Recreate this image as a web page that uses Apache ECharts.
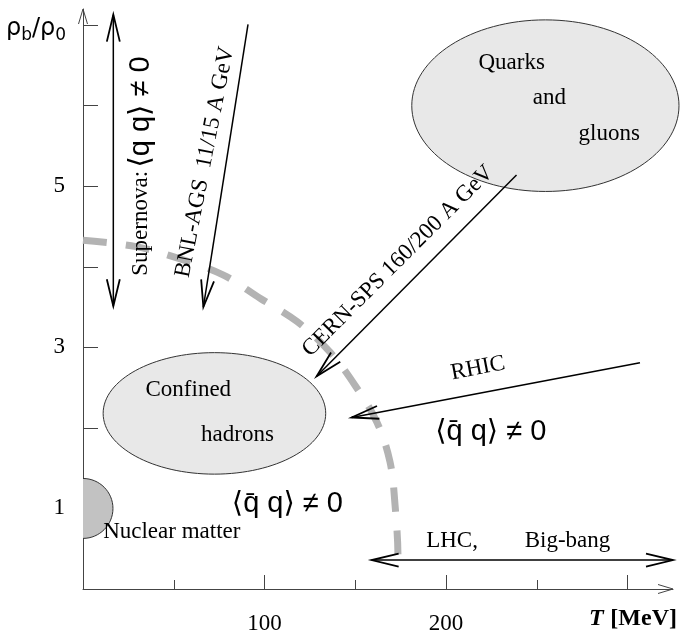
<!DOCTYPE html>
<html><head><meta charset="utf-8">
<script src="https://cdn.jsdelivr.net/npm/echarts@6/dist/echarts.min.js"></script>
<style>html,body{margin:0;padding:0;background:#fff}#c{width:680px;height:638px}</style>
</head><body><div id="c"></div>
<script>
// ---- axis ticks / labels ----
const xTickValues = [50, 100, 150, 200, 250, 300];
const xMajorTickValues = [100, 200, 300];
const xLabelValues = [100, 200];
const yTickValues = [1, 2, 3, 4, 5, 6, 7];
const yLabelValues = [1, 3, 5];

// ---- phase boundary (T in MeV, rho_b/rho_0) ----
const boundaryT   = [0, 29.2, 51.8, 77.1, 97.5, 117.9, 136.1, 149.8, 161.9, 169.1, 171.9, 173.5, 173.5];
const boundaryRho = [4.33, 4.25, 4.11, 3.90, 3.61, 3.32, 2.94, 2.53, 2.07, 1.58, 1.04, 0.38, 0.21];

// ---- phase regions (centre and half-extent in data units) ----
const regionNames     = ['Quarks and gluons', 'Confined hadrons'];
const regionT         = [254.7, 72.4];
const regionRho       = [6.0, 2.18];
const regionTRadius   = [73.6, 61.3];
const regionRhoRadius = [1.065, 0.754];
const nuclearT = [0], nuclearRho = [1.0], nuclearTRadius = [16.5], nuclearRhoRadius = [0.372];

// ---- experiment / trajectory arrows ----
const arrowNames = ['Supernova', 'BNL-AGS', 'CERN-SPS', 'RHIC', 'LHC / Big-bang'];
const arrowT0    = [16.7, 90.9, 238.8, 306.8, 159.0];
const arrowRho0  = [7.13, 7.01, 5.14, 2.81, 0.36];
const arrowT1    = [16.7, 66.3, 128.7, 148.0, 325.0];
const arrowRho1  = [3.51, 3.50, 2.64, 2.13, 0.36];
const arrowHeads = [2, 1, 1, 1, 2];

// ---- annotations (anchored in data coordinates) ----
const noteTexts = [
  '{s|Supernova:} {m|⟨q q⟩ ≠ 0}',
  '{s|BNL-AGS  11/15 A GeV}',
  '{s|CERN-SPS 160/200 A GeV}',
  '{s|RHIC}',
  '{s|Quarks}', '{s|and}', '{s|gluons}',
  '{s|Confined}', '{s|hadrons}',
  '{m|⟨q\u0304 q⟩ ≠ 0}', '{m|⟨q\u0304 q⟩ ≠ 0}',
  '{s|Nuclear matter}',
  '{s|LHC,}', '{s|Big-bang}'
];
const noteT     = [31.9, 67.2, 173.5, 217.6, 236.1, 256.9, 289.9, 58.0, 85.1, 112.6, 224.6, 48.9, 203.3, 266.9];
const noteRho   = [5.25, 5.30, 4.07, 2.74, 6.53, 6.09, 5.65, 2.47, 1.91, 1.05, 1.95, 0.71, 0.60, 0.60];
const noteAngle = [90, 79, 45, 11, 0, 0, 0, 0, 0, 0, 0, 0, 0, 0];

const SERIF = "'Liberation Serif', 'Times New Roman', serif";
const SANS = "'Liberation Sans', 'DejaVu Sans', sans-serif";
const richStyles = {
  s: { fontFamily: SERIF, fontSize: 23, fill: '#000', color: '#000' },
  m: { fontFamily: SANS, fontSize: 29, fill: '#000', color: '#000' }
};
const AXIS_COLOR = '#444';

function openHead(tip, from, len, w, color, lw) {
  const dx = tip[0] - from[0], dy = tip[1] - from[1];
  const L = Math.hypot(dx, dy) || 1;
  const ux = dx / L, uy = dy / L;
  const bx = tip[0] - ux * len, by = tip[1] - uy * len;
  return {
    type: 'polyline',
    shape: { points: [[bx - uy * w, by + ux * w], [tip[0], tip[1]], [bx + uy * w, by - ux * w]] },
    style: { stroke: color, lineWidth: lw, fill: null }
  };
}

const chart = echarts.init(document.getElementById('c'), null, { renderer: 'canvas' });
chart.setOption({
  animation: false,
  backgroundColor: '#fff',
  grid: { left: 83, right: 7, top: 9, bottom: 49, containLabel: false, outerBoundsMode: 'none' },
  xAxis: [{
    type: 'value', min: 0, max: 325, position: 'bottom',
    axisLine: { show: true, onZero: false, lineStyle: { color: AXIS_COLOR, width: 1 } },
    axisTick: { show: true, inside: true, length: 9, customValues: xTickValues, lineStyle: { color: AXIS_COLOR, width: 1 } },
    axisLabel: { show: true, customValues: xLabelValues, margin: 23, color: '#000', fontFamily: SERIF, fontSize: 23 },
    splitLine: { show: false }
  }, {
    type: 'value', min: 0, max: 325, position: 'bottom', offset: 0,
    axisLine: { show: false },
    axisTick: { show: true, inside: true, length: 14, customValues: xMajorTickValues, lineStyle: { color: AXIS_COLOR, width: 1 } },
    axisLabel: { show: false },
    splitLine: { show: false }
  }],
  yAxis: {
    type: 'value', min: 0, max: 7.2,
    axisLine: { show: true, onZero: false, lineStyle: { color: AXIS_COLOR, width: 1 } },
    axisTick: { show: true, inside: true, length: 15, customValues: yTickValues, lineStyle: { color: AXIS_COLOR, width: 1 } },
    axisLabel: { show: true, customValues: yLabelValues, margin: 18, color: '#000', fontFamily: SERIF, fontSize: 23 },
    splitLine: { show: false }
  },
  graphic: [
    {
      type: 'text', x: 36, y: 29, z: 10,
      style: {
        text: '{r|ρ}{sb|b}{r|/}{r|ρ}{sb|0}',
        align: 'center', verticalAlign: 'middle',
        rich: {
          r: { fontFamily: "'DejaVu Sans', sans-serif", fontSize: 24, fill: '#000' },
          sb: { fontFamily: "'DejaVu Sans', sans-serif", fontSize: 17, fill: '#000', padding: [14, 0, 0, 0] }
        }
      }
    },
    {
      type: 'text', x: 633, y: 619, z: 10,
      style: {
        text: '{t|T}  {u|[MeV]}',
        align: 'center', verticalAlign: 'middle',
        rich: {
          t: { fontFamily: SERIF, fontSize: 24, fontWeight: 'bold', fontStyle: 'italic', fill: '#000' },
          u: { fontFamily: SERIF, fontSize: 24, fontWeight: 'bold', fill: '#000' }
        }
      }
    }
  ],
  series: [
    {
      name: 'regions', type: 'custom', z: 1, clip: false,
      data: regionT.map((t, i) => [t, regionRho[i], regionTRadius[i], regionRhoRadius[i]]),
      renderItem: function (params, api) {
        const c = api.coord([api.value(0), api.value(1)]);
        const s = api.size([api.value(2), api.value(3)]);
        return { type: 'ellipse', shape: { cx: c[0], cy: c[1], rx: s[0], ry: s[1] },
          style: { fill: '#e8e8e8', stroke: '#333', lineWidth: 1 } };
      }
    },
    {
      name: 'nuclear matter', type: 'custom', z: 1, clip: true,
      data: nuclearT.map((t, i) => [t, nuclearRho[i], nuclearTRadius[i], nuclearRhoRadius[i]]),
      renderItem: function (params, api) {
        const c = api.coord([api.value(0), api.value(1)]);
        const s = api.size([api.value(2), api.value(3)]);
        return { type: 'ellipse', shape: { cx: c[0], cy: c[1], rx: s[0], ry: s[1] },
          style: { fill: '#c2c2c2', stroke: '#333', lineWidth: 1 } };
      }
    },
    {
      name: 'phase boundary', type: 'line', z: 2, smooth: 0.35, symbol: 'none',
      data: boundaryT.map((t, i) => [t, boundaryRho[i]]),
      lineStyle: { color: '#b3b3b3', width: 7, type: [24, 19], cap: 'butt' }
    },
    {
      name: 'arrows', type: 'custom', z: 3, clip: false,
      data: arrowT0.map((t, i) => [t, arrowRho0[i], arrowT1[i], arrowRho1[i], arrowHeads[i]]),
      renderItem: function (params, api) {
        const p0 = api.coord([api.value(0), api.value(1)]);
        const p1 = api.coord([api.value(2), api.value(3)]);
        const children = [{ type: 'line', shape: { x1: p0[0], y1: p0[1], x2: p1[0], y2: p1[1] },
          style: { stroke: '#000', lineWidth: 1.5 } }];
        children.push(openHead(p1, p0, 27, 6.5, '#000', 1.8));
        if (api.value(4) === 2) children.push(openHead(p0, p1, 27, 6.5, '#000', 1.8));
        return { type: 'group', children: children };
      }
    },
    {
      name: 'axis arrows', type: 'custom', z: 3, clip: false,
      data: [[325, 0, 1], [0, 7.2, 2]],
      renderItem: function (params, api) {
        const tip = api.coord([api.value(0), api.value(1)]);
        const from = api.value(2) === 1 ? [tip[0] - 10, tip[1]] : [tip[0], tip[1] + 10];
        return openHead(tip, from, 15, 4.5, AXIS_COLOR, 1);
      }
    },
    {
      name: 'annotations', type: 'custom', z: 4, clip: false,
      data: noteT.map((t, i) => [t, noteRho[i], noteAngle[i], i]),
      renderItem: function (params, api) {
        const p = api.coord([api.value(0), api.value(1)]);
        return { type: 'text', x: p[0], y: p[1], rotation: api.value(2) * Math.PI / 180,
          style: { text: noteTexts[api.value(3)], align: 'center', verticalAlign: 'middle', rich: richStyles, fill: '#000' } };
      }
    }
  ]
});
</script>
</body></html>
